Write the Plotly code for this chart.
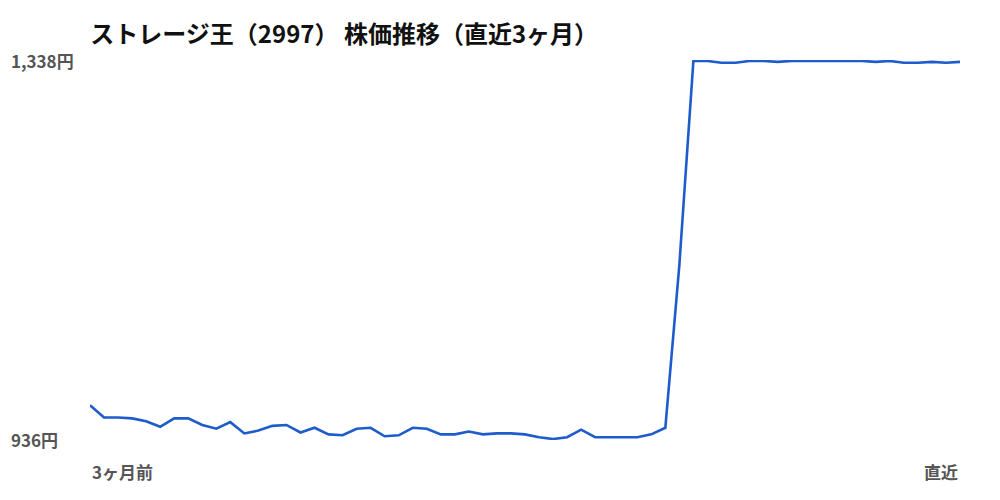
import plotly.graph_objects as go

TITLE = "ストレージ王（2997） 株価推移（直近3ヶ月）"
START_LABEL = "3ヶ月前"
END_LABEL = "直近"

# daily closes, oldest -> newest
prices = [
    972, 959, 959, 958, 955, 949, 958, 958, 951, 947,
    954, 942, 945, 950, 951, 943, 948, 941, 940, 947,
    948, 939, 940, 948, 947, 941, 941, 944, 941, 942,
    942, 941, 938, 936, 938, 946, 938, 938, 938, 938,
    941, 948, 1121, 1338, 1338, 1336, 1336, 1338, 1338, 1337,
    1338, 1338, 1338, 1338, 1338, 1338, 1337, 1338, 1336, 1336,
    1337, 1336, 1337,
]
days = list(range(len(prices)))

LINE_COLOR = "#1e5bcb"
LABEL_COLOR = "#555555"
FONT = "Noto Sans CJK JP"

lo, hi = min(prices), max(prices)

fig = go.Figure()
fig.add_trace(
    go.Scatter(
        x=days,
        y=prices,
        mode="lines",
        line=dict(color=LINE_COLOR, width=2.6),
        hoverinfo="skip",
        showlegend=False,
    )
)

annotations = [
    dict(text=f"{hi:,}円", x=-0.093, y=hi, xref="paper", yref="y",
         xanchor="left", yanchor="middle", showarrow=False),
    dict(text=f"{lo:,}円", x=-0.093, y=lo, xref="paper", yref="y",
         xanchor="left", yanchor="middle", showarrow=False),
    dict(text=START_LABEL, x=days[0], y=-0.045, xref="x", yref="paper",
         xanchor="left", yanchor="top", showarrow=False),
    dict(text=END_LABEL, x=days[-1], y=-0.045, xref="x", yref="paper",
         xanchor="right", yanchor="top", showarrow=False),
]
for a in annotations:
    a["font"] = dict(family=FONT, size=17, color=LABEL_COLOR, weight="bold")

# page body has an 8px margin, so the figure is shrunk and shifted to match
fig.update_layout(
    width=992,
    height=492,
    title=dict(
        text=f"<b>{TITLE}</b>",
        x=0.083,
        xanchor="left",
        y=0.945,
        yanchor="middle",
        font=dict(family=FONT, size=24, color="#111111"),
    ),
    xaxis=dict(
        range=[days[0], days[-1]],
        visible=False,
        showgrid=False,
        zeroline=False,
    ),
    yaxis=dict(
        range=[lo - 1, hi + 1],
        visible=False,
        showgrid=False,
        zeroline=False,
    ),
    margin=dict(l=82, r=40, t=52, b=60),
    paper_bgcolor="white",
    plot_bgcolor="white",
    annotations=annotations,
    showlegend=False,
)

fig.write_html("out.html")
